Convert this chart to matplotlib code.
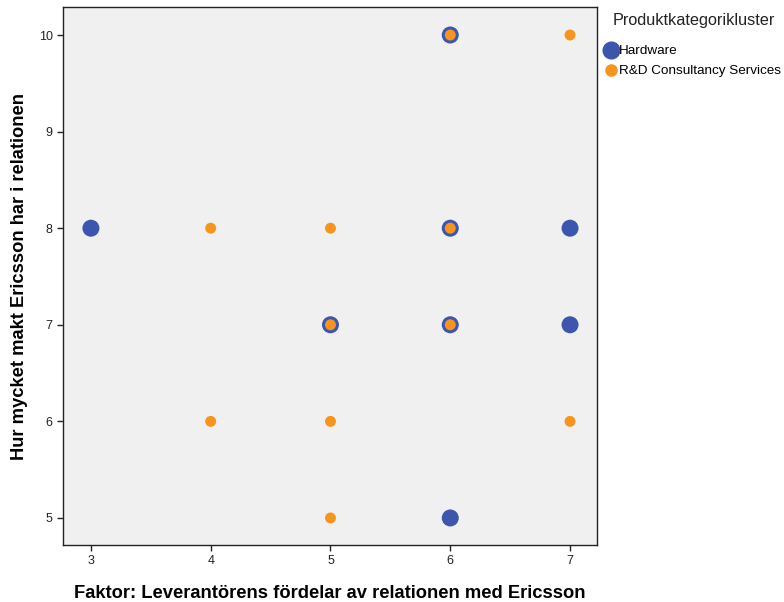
import matplotlib
matplotlib.use("Agg")
import matplotlib.pyplot as plt
from matplotlib.lines import Line2D

plt.rcParams["font.family"] = ["Liberation Sans", "DejaVu Sans"]

# Hardware cluster
hw_x = [3, 5, 6, 6, 6, 6, 7, 7]
hw_y = [8, 7, 10, 8, 7, 5, 8, 7]
# R&D Consultancy Services cluster
rd_x = [4, 5, 4, 5, 5, 5, 6, 6, 6, 7, 7]
rd_y = [8, 8, 6, 6, 5, 7, 10, 8, 7, 10, 6]

x_ticks = [3, 4, 5, 6, 7]
y_ticks = [5, 6, 7, 8, 9, 10]

blue = "#3d56ad"
orange = "#f7941d"

fig = plt.figure(figsize=(7.84, 6.02), dpi=100)
ax = fig.add_axes([63/784, 1 - 545/602, (597 - 63)/784, (545 - 7)/602])
ax.set_facecolor("#f0f0f0")

ax.scatter(hw_x, hw_y, s=150, color=blue, edgecolors="none", zorder=3)
ax.scatter(rd_x, rd_y, s=62, color=orange, edgecolors="none", zorder=4)

ax.set_xlim(2.767, 7.225)
ax.set_ylim(4.72, 10.29)
ax.set_xticks(x_ticks)
ax.set_yticks(y_ticks)
ax.tick_params(axis="both", labelsize=9, length=4, width=1, colors="#222222")
for sp in ax.spines.values():
    sp.set_color("#222222")
    sp.set_linewidth(1)

ax.set_xlabel("Faktor: Leverantörens fördelar av relationen med Ericsson",
              fontsize=13.2, fontweight="bold", va="center")
ax.set_ylabel("Hur mycket makt Ericsson har i relationen",
              fontsize=13.2, fontweight="bold", va="center")
ax.xaxis.set_label_coords(0.5, -(593 - 545) / 538)
ax.yaxis.set_label_coords(-(63 - 20) / 534, 0.5)

# legend title and entries
fig.text(613/784, 1 - 20/602, "Produktkategorikluster", fontsize=11.7,
         va="center", ha="left", color="#222222")
handles = [
    Line2D([], [], marker="o", linestyle="none", markersize=12, color=blue, label="Hardware"),
    Line2D([], [], marker="o", linestyle="none", markersize=8, color=orange, label="R&D Consultancy Services"),
]
leg = fig.legend(handles=handles, loc="upper left",
                 bbox_to_anchor=(604/784, 1 - 45/602), frameon=False,
                 fontsize=9.7, handletextpad=0.1, handlelength=1.0,
                 labelspacing=0.55, borderpad=0.0, borderaxespad=0.0)

fig.savefig("out.png", dpi=100)
